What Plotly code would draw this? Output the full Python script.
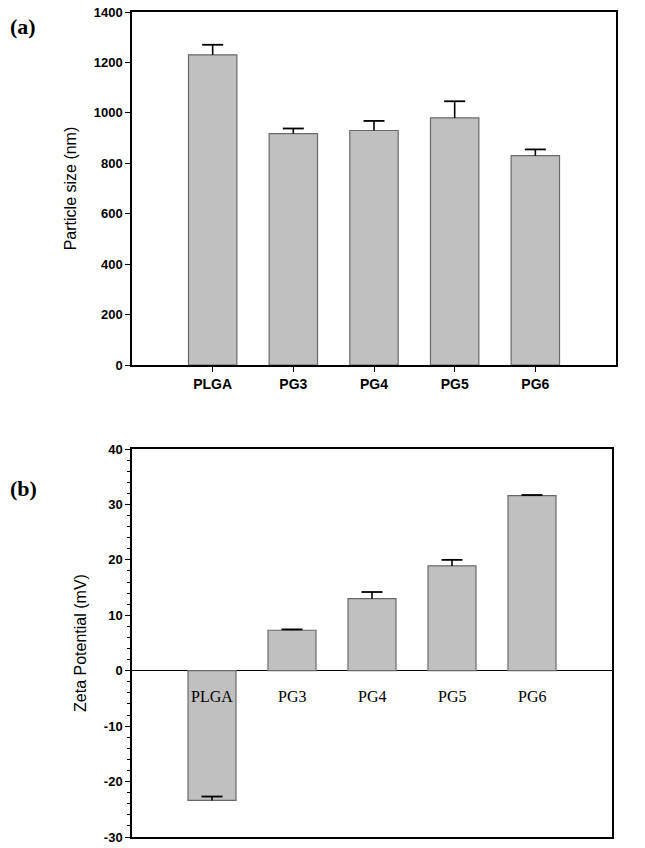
import plotly.graph_objects as go

categories = ["PLGA", "PG3", "PG4", "PG5", "PG6"]
size_nm = [1230, 918, 930, 980, 830]
size_err = [40, 20, 38, 66, 25]
zeta_mv = [-23.4, 7.3, 13.0, 18.9, 31.6]
zeta_err = [0.7, 0.15, 1.2, 1.1, 0.1]
size_ticks = [0, 200, 400, 600, 800, 1000, 1200, 1400]
zeta_ticks = [-30, -20, -10, 0, 10, 20, 30, 40]

W, H = 645, 848
xpos = list(range(len(categories)))

BAR_FILL = "#c0c0c0"
BAR_LINE = "#6a6a6a"

fig = go.Figure()


def add_panel(values, errs, xa, ya):
    fig.add_trace(go.Bar(
        x=xpos, y=values, width=0.6, xaxis=xa, yaxis=ya,
        marker=dict(color=BAR_FILL, line=dict(color=BAR_LINE, width=1.2)),
        error_y=dict(type="data", symmetric=False, array=errs,
                     arrayminus=[0] * len(errs), color="black",
                     thickness=1.6, width=0),
        showlegend=False, hoverinfo="skip",
    ))
    # cap only at the upper end of each error bar
    fig.add_trace(go.Scatter(
        x=xpos, y=[v + e for v, e in zip(values, errs)], xaxis=xa, yaxis=ya,
        mode="markers",
        marker=dict(symbol="line-ew", size=15, color="black",
                    line=dict(color="black", width=1.8)),
        showlegend=False, hoverinfo="skip",
    ))


add_panel(size_nm, size_err, "x", "y")
add_panel(zeta_mv, zeta_err, "x2", "y2")

boldfont = dict(family="Liberation Sans, Arial", size=13, color="black", weight="bold")
titlefont = dict(family="Liberation Sans, Arial", size=16, color="black")

fig.update_layout(
    template="none",
    width=W, height=H,
    margin=dict(l=0, r=0, t=0, b=0, autoexpand=False),
    paper_bgcolor="white", plot_bgcolor="white",
    xaxis=dict(
        domain=[132 / W, 616 / W], anchor="y", range=[-1, 5], automargin=False,
        tickmode="array", tickvals=xpos, ticktext=categories,
        ticks="outside", ticklen=5, tickwidth=1.2, tickcolor="black",
        showline=True, linecolor="black", linewidth=1.5, mirror=True,
        showgrid=False, zeroline=False,
        tickfont=dict(family="Liberation Sans, Arial", size=14, color="black", weight="bold"),
    ),
    yaxis=dict(
        domain=[(H - 365) / H, (H - 12) / H], anchor="x", range=[0, 1400], automargin=False,
        tickmode="array", tickvals=size_ticks, ticktext=[str(t) for t in size_ticks],
        ticks="outside", ticklen=5, tickwidth=1.2, tickcolor="black",
        showline=True, linecolor="black", linewidth=1.5, mirror=True,
        showgrid=False, zeroline=False,
        tickfont=boldfont,
        title=dict(text="Particle size (nm)", standoff=13, font=titlefont),
    ),
    xaxis2=dict(
        domain=[132 / W, 612 / W], anchor="y2", range=[-1, 5], automargin=False,
        showticklabels=False, ticks="",
        showline=True, linecolor="black", linewidth=1.5, mirror=True,
        showgrid=False, zeroline=False,
    ),
    yaxis2=dict(
        domain=[(H - 837) / H, (H - 449) / H], anchor="x2", range=[-30, 40], automargin=False,
        tickmode="array", tickvals=zeta_ticks, ticktext=[str(t) for t in zeta_ticks],
        ticks="outside", ticklen=5, tickwidth=1.2, tickcolor="black",
        minor=dict(tickmode="linear", tick0=0, dtick=2, ticks="outside",
                   ticklen=3, tickwidth=1, tickcolor="black", showgrid=False),
        showline=True, linecolor="black", linewidth=1.5, mirror=True,
        showgrid=False, zeroline=True, zerolinecolor="black", zerolinewidth=1.3,
        tickfont=boldfont,
        title=dict(text="Zeta Potential (mV)", standoff=13, font=titlefont),
    ),
)

# category labels of panel (b) sit just below the zero line
for i, c in enumerate(categories):
    fig.add_annotation(x=i, y=0, xref="x2", yref="y2", text=c, showarrow=False,
                       yanchor="middle", xanchor="center", yshift=-26,
                       font=dict(family="Liberation Serif, Times New Roman", size=16, color="black"))

# panel letters
fig.add_annotation(x=8 / W, y=(H - 27) / H, xref="paper", yref="paper", text="<b>(a)</b>",
                   showarrow=False, xanchor="left", yanchor="middle",
                   font=dict(family="Liberation Serif, Times New Roman", size=22, color="black"))
fig.add_annotation(x=8 / W, y=(H - 488) / H, xref="paper", yref="paper", text="<b>(b)</b>",
                   showarrow=False, xanchor="left", yanchor="middle",
                   font=dict(family="Liberation Serif, Times New Roman", size=22, color="black"))

fig.write_html(
    "out.html",
    config={"displayModeBar": False},
    post_script="document.body.style.margin='0';document.body.style.overflow='hidden';",
)
